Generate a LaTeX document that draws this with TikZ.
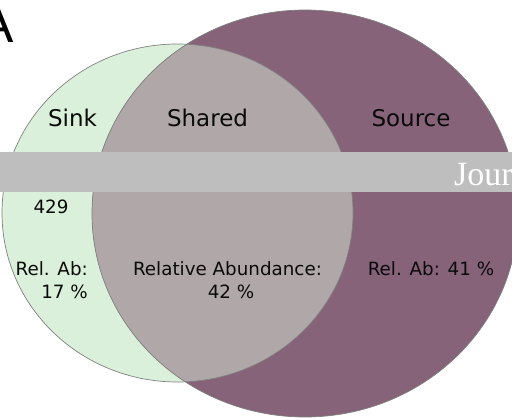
\documentclass[tikz,border=0pt]{standalone}
\usepackage{fontspec}
\setmainfont{DejaVu Sans}
\newfontfamily\arialfont{Liberation Sans}
\newfontfamily\timesfont{Liberation Serif}
\definecolor{sinkgreen}{RGB}{218,240,218}
\definecolor{sharedgray}{RGB}{176,168,168}
\definecolor{sourcepurple}{RGB}{134,99,121}
\definecolor{bandgray}{RGB}{190,190,190}
\definecolor{txt}{RGB}{10,10,10}
\begin{document}
\begin{tikzpicture}[x=1pt,y=-1pt,
  big/.style={font=\fontsize{23}{27}\selectfont, inner sep=0pt, anchor=base, text=txt},
  small/.style={font=\fontsize{18.3}{23}\selectfont, inner sep=0pt, anchor=base, text=txt},
  outline/.style={draw=black!50, line width=0.7pt}]
\useasboundingbox (0,0) rectangle (512,420);
\clip (0,0) rectangle (512,420);
\fill[sinkgreen] (177.5,213) ellipse [x radius=175.5, y radius=169];
\fill[sourcepurple] (305,213.5) ellipse [x radius=213, y radius=203.5];
\begin{scope}
  \clip (177.5,213) ellipse [x radius=175.5, y radius=169];
  \fill[sharedgray] (305,213.5) ellipse [x radius=213, y radius=203.5];
\end{scope}
\draw[outline] (177.5,213) ellipse [x radius=175.5, y radius=169];
\draw[outline] (305,213.5) ellipse [x radius=213, y radius=203.5];
\fill[bandgray] (0,152) rectangle (512,192);
\node[font=\timesfont\fontsize{34}{34}\selectfont, text=white, anchor=base west, inner sep=0pt] (jour) at (454,185) {Jour};
\node[font=\arialfont\fontsize{53}{53}\selectfont, anchor=base east, inner sep=0pt] (A) at (14,43) {A};
\node[big] (sink) at (72.5,126) {Sink};
\node[big] (shared) at (207.5,126) {Shared};
\node[big] (source) at (411,126) {Source};
\node[small] (n429) at (51,213) {429};
\node[small, anchor=base east] (relab1) at (88,275) {Rel. Ab:};
\node[small, anchor=base east] (pct17) at (88,298) {17 \%};
\node[small] (relab2) at (227.5,275) {Relative Abundance:};
\node[small] (pct42) at (231,298) {42 \%};
\node[small] (relab3) at (431,275) {Rel. Ab: 41 \%};
\end{tikzpicture}
\end{document}
